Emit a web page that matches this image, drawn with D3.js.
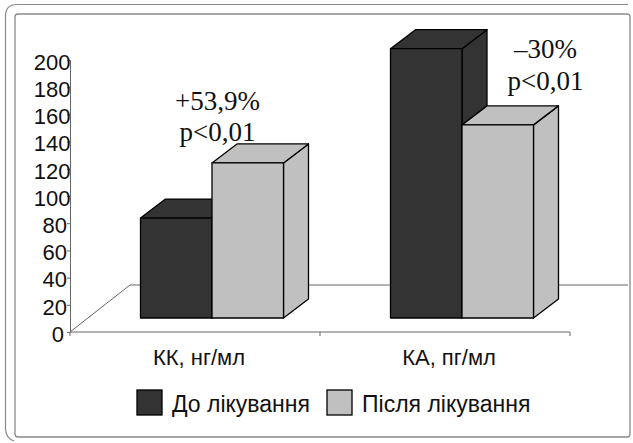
<!DOCTYPE html>
<html>
<head>
<meta charset="utf-8">
<script src="https://cdn.jsdelivr.net/npm/d3@7"></script>
<style>
  html, body { margin: 0; padding: 0; background: #fff; }
  svg { display: block; }
</style>
</head>
<body>
<div id="chart"></div>
<script>
const categories = ["КК, нг/мл", "КА, пг/мл"];
const seriesNames = ["До лікування", "Після лікування"];
const before = [73.5, 198];
const after = [114, 142];
const yTicks = [0, 20, 40, 60, 80, 100, 120, 140, 160, 180, 200];
const changeLabels = ["+53,9%", "–30%"];
const pLabels = ["p<0,01", "p<0,01"];

const width = 633, height = 443;
const colors = ["#333333", "#c0c0c0"];
const sans = "'Liberation Sans', Arial, sans-serif";
const serif = "'Liberation Serif', 'Times New Roman', serif";

const svg = d3.select("#chart").append("svg")
  .attr("width", width)
  .attr("height", height);

// frames
svg.append("path")
  .attr("d", "M628,4.5 H17 Q5.5,4.5 5.5,16 V428 Q5.5,438 14,441")
  .attr("fill", "none").attr("stroke", "#8a8a8a").attr("stroke-width", 1.2);
svg.append("rect")
  .attr("x", 15).attr("y", 14).attr("width", 615).attr("height", 423).attr("rx", 3)
  .attr("fill", "#fff").attr("stroke", "#8a8a8a").attr("stroke-width", 1.3);

const y = d3.scaleLinear().domain([0, 200]).range([332, 60]);
const x = d3.scaleBand().domain(categories).range([70, 570]);
const inner = d3.scaleBand().domain(seriesNames).range([70.5, 213.5]);

// 3d offsets
const floorDx = 60, floorDy = -47;
const barDx = 25, barDy = -19;
const baseLift = 14;

// floor and back wall
svg.append("path")
  .attr("d", `M70,${y(0)} l${floorDx},${floorDy} H628`)
  .attr("fill", "none").attr("stroke", "#666").attr("stroke-width", 1);

// axes
const gy = svg.append("g")
  .attr("transform", "translate(70,0)")
  .call(d3.axisLeft(y).tickValues(yTicks).tickSize(3).tickPadding(0).tickFormat(d3.format("d")));
gy.selectAll("text")
  .attr("font-family", sans).attr("font-size", 22).attr("fill", "#111")
  .attr("x", d => d >= 100 ? 0.5 : d > 0 ? -3 : -6)
  .attr("dy", "0.42em");
gy.selectAll("line, path").attr("stroke", "#666");

const gx = svg.append("g")
  .attr("transform", `translate(0,${y(0)})`)
  .call(d3.axisBottom(x).tickSize(0).tickPadding(17));
gx.selectAll("text")
  .attr("font-family", sans).attr("font-size", 22).attr("fill", "#111")
  .attr("dx", 4);
gx.select("path").attr("stroke", "#666").attr("d", "M70,0 H570");
gx.selectAll(".sep")
  .data([...categories.map(c => x(c)), x.range()[1]])
  .join("line")
  .attr("class", "sep")
  .attr("x1", d => d).attr("x2", d => d)
  .attr("y1", 0).attr("y2", 4)
  .attr("stroke", "#666");

// bars
const rows = categories.flatMap((c, i) => [
  { cat: c, name: seriesNames[0], value: before[i], color: colors[0] },
  { cat: c, name: seriesNames[1], value: after[i], color: colors[1] }
]);

const bars = svg.append("g").selectAll("g").data(rows).join("g")
  .attr("stroke", "#000").attr("stroke-width", 1.3).attr("stroke-linejoin", "round");

const barBottom = y(0) - baseLift;
const barLeft = d => x(d.cat) + inner(d.name);
const barTop = d => y(d.value) - baseLift;
const bw = inner.bandwidth();

bars.append("path") // side
  .attr("fill", d => d.color)
  .attr("d", d => `M${barLeft(d) + bw},${barTop(d)} l${barDx},${barDy} V${barBottom + barDy} l${-barDx},${-barDy} Z`);
bars.append("path") // top
  .attr("fill", d => d.color)
  .attr("d", d => `M${barLeft(d)},${barTop(d)} l${barDx},${barDy} h${bw} l${-barDx},${-barDy} Z`);
bars.append("rect") // front
  .attr("fill", d => d.color)
  .attr("x", barLeft).attr("y", barTop)
  .attr("width", bw).attr("height", d => barBottom - barTop(d));

// annotations
const noteDx = [147.5, 225.5];
const noteY = [[110, 141], [58, 90]];
categories.forEach((c, i) => {
  [changeLabels[i], pLabels[i]].forEach((t, j) => {
    svg.append("text")
      .attr("x", x(c) + noteDx[i])
      .attr("y", noteY[i][j])
      .attr("text-anchor", "middle")
      .attr("font-family", serif).attr("font-size", 27).attr("fill", "#111")
      .text(t);
  });
});

// legend
const legendX = [137, 327];
const legend = svg.append("g").selectAll("g").data(seriesNames).join("g")
  .attr("transform", (d, i) => `translate(${legendX[i]},390)`);
legend.append("rect")
  .attr("width", 25).attr("height", 25)
  .attr("fill", (d, i) => colors[i])
  .attr("stroke", "#000").attr("stroke-width", 1.3);
legend.append("text")
  .attr("x", 35).attr("y", 22)
  .attr("font-family", sans).attr("font-size", 23).attr("fill", "#111")
  .text(d => d);
</script>
</body>
</html>
